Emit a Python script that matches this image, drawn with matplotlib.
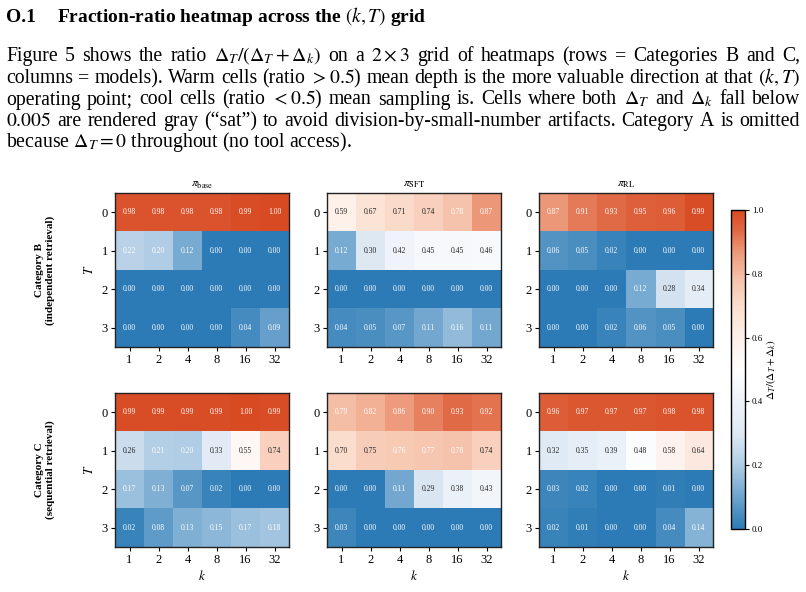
import matplotlib
matplotlib.use("Agg")
import matplotlib.pyplot as plt
import numpy as np
from matplotlib.colors import LinearSegmentedColormap

plt.rcParams['font.family'] = ['Liberation Serif', 'DejaVu Serif']
plt.rcParams['mathtext.fontset'] = 'stix'

k_vals = [1, 2, 4, 8, 16, 32]
T_vals = [0, 1, 2, 3]
models = [r"$\pi_{\mathrm{base}}$", r"$\pi_{\mathrm{SFT}}$", r"$\pi_{\mathrm{RL}}$"]
row_labels = ["Category B\n(independent retrieval)", "Category C\n(sequential retrieval)"]

# ratio Delta_T / (Delta_T + Delta_k), rows = T, cols = k
cat_b_base = [[0.98, 0.98, 0.98, 0.98, 0.99, 1.00],
              [0.22, 0.20, 0.12, 0.00, 0.00, 0.00],
              [0.00, 0.00, 0.00, 0.00, 0.00, 0.00],
              [0.00, 0.00, 0.00, 0.00, 0.04, 0.09]]
cat_b_sft = [[0.59, 0.67, 0.71, 0.74, 0.78, 0.87],
             [0.12, 0.30, 0.42, 0.45, 0.45, 0.46],
             [0.00, 0.00, 0.00, 0.00, 0.00, 0.00],
             [0.04, 0.05, 0.07, 0.11, 0.16, 0.11]]
cat_b_rl = [[0.87, 0.91, 0.93, 0.95, 0.96, 0.99],
            [0.06, 0.05, 0.02, 0.00, 0.00, 0.00],
            [0.00, 0.00, 0.00, 0.12, 0.28, 0.34],
            [0.00, 0.00, 0.02, 0.06, 0.05, 0.00]]
cat_c_base = [[0.99, 0.99, 0.99, 0.99, 1.00, 0.99],
              [0.26, 0.21, 0.20, 0.33, 0.55, 0.74],
              [0.17, 0.13, 0.07, 0.02, 0.00, 0.00],
              [0.02, 0.08, 0.13, 0.15, 0.17, 0.18]]
cat_c_sft = [[0.79, 0.82, 0.86, 0.90, 0.93, 0.92],
             [0.70, 0.75, 0.76, 0.77, 0.78, 0.74],
             [0.00, 0.00, 0.11, 0.29, 0.38, 0.43],
             [0.03, 0.00, 0.00, 0.00, 0.00, 0.00]]
cat_c_rl = [[0.96, 0.97, 0.97, 0.97, 0.98, 0.98],
            [0.32, 0.35, 0.39, 0.48, 0.58, 0.64],
            [0.03, 0.02, 0.00, 0.00, 0.01, 0.00],
            [0.02, 0.01, 0.00, 0.00, 0.04, 0.14]]
grids = [[cat_b_base, cat_b_sft, cat_b_rl],
         [cat_c_base, cat_c_sft, cat_c_rl]]

# diverging blue-white-red map
cmap = LinearSegmentedColormap.from_list("ratio", [
    (0.00, (44/255, 123/255, 182/255)),
    (0.12, (122/255, 172/255, 210/255)),
    (0.20, (176/255, 205/255, 229/255)),
    (0.30, (222/255, 233/255, 244/255)),
    (0.42, (241/255, 245/255, 251/255)),
    (0.50, (1.0, 1.0, 1.0)),
    (0.60, (253/255, 240/255, 233/255)),
    (0.70, (251/255, 222/255, 206/255)),
    (0.78, (246/255, 196/255, 173/255)),
    (0.87, (237/255, 152/255, 120/255)),
    (0.93, (226/255, 108/255, 72/255)),
    (1.00, (216/255, 74/255, 34/255)),
])

W, H = 806, 592
fig = plt.figure(figsize=(W / 100, H / 100), dpi=100)


def px_axes(x0, y0, x1, y1):
    return fig.add_axes([x0 / W, 1 - y1 / H, (x1 - x0) / W, (y1 - y0) / H])


# ---- page text ----
renderer = fig.canvas.get_renderer()
fig.text(6 / W, 1 - 22 / H, "O.1", fontsize=14, fontweight='bold', va='baseline')
fig.text(57 / W, 1 - 22 / H, r"Fraction-ratio heatmap across the $(k,T)$ grid",
         fontsize=14, fontweight='bold', va='baseline')

lines = [
    r"Figure 5 shows the ratio $\Delta_T/(\Delta_T+\Delta_k)$ on a $2\times3$ grid of heatmaps (rows = Categories B and C,",
    r"columns = models). Warm cells (ratio $>0.5$) mean depth is the more valuable direction at that $(k,T)$",
    r"operating point; cool cells (ratio $<0.5$) mean sampling is. Cells where both $\Delta_T$ and $\Delta_k$ fall below",
    r"$0.005$ are rendered gray (“sat”) to avoid division-by-small-number artifacts. Category A is omitted",
    r"because $\Delta_T=0$ throughout (no tool access).",
]
baselines = [61, 83, 104.5, 126, 147.5]
x_left, x_right = 6, 800

# pick a font size so the tightest justified line still has a normal word space
fs_par = 20.0
for line in lines[:-1]:
    words = line.split(" ")
    tmp = [fig.text(0, 0, w, fontsize=10) for w in words]
    s10 = sum(t.get_window_extent(renderer).width for t in tmp)
    for t in tmp:
        t.remove()
    fs_fit = (x_right - x_left) / (s10 / 10 + 0.25 * 100 / 72 * (len(words) - 1))
    fs_par = min(fs_par, fs_fit)

for i, (line, yb) in enumerate(zip(lines, baselines)):
    if i == len(lines) - 1:
        fig.text(x_left / W, 1 - yb / H, line, fontsize=fs_par, va='baseline')
        continue
    words = line.split(" ")
    texts = [fig.text(0, 1 - yb / H, w, fontsize=fs_par, va='baseline') for w in words]
    widths = [t.get_window_extent(renderer).width for t in texts]
    gap = (x_right - x_left - sum(widths)) / (len(words) - 1)
    x = x_left
    for t, w in zip(texts, widths):
        t.set_x(x / W)
        x += w + gap

# ---- heatmaps ----
lefts = [115, 327, 539]
tops = [193, 393]
pw, ph = 174, 154
for r in range(2):
    for c in range(3):
        ax = px_axes(lefts[c], tops[r], lefts[c] + pw, tops[r] + ph)
        data = np.array(grids[r][c])
        im = ax.imshow(data, cmap=cmap, vmin=0, vmax=1, aspect='auto')
        for i in range(len(T_vals)):
            for j in range(len(k_vals)):
                v = data[i, j]
                col = 'white' if abs(v - 0.5) > 0.25 else '#222222'
                ax.text(j, i, f"{v:.2f}", ha='center', va='center', fontsize=5.5, color=col)
        ax.set_xticks(range(len(k_vals)))
        ax.set_xticklabels([str(k) for k in k_vals])
        ax.set_yticks(range(len(T_vals)))
        ax.set_yticklabels([str(t) for t in T_vals])
        ax.tick_params(labelsize=9, length=3, width=0.8, pad=2)
        for s in ax.spines.values():
            s.set_linewidth(1.0)
            s.set_color('#222222')
        if r == 0:
            ax.set_title(models[c], fontsize=8.5, pad=5)
        if r == 1:
            ax.set_xlabel(r"$k$", fontsize=9.5, labelpad=2)
        if c == 0:
            ax.set_ylabel(r"$T$", fontsize=9.5, labelpad=4)
    fig.text(45 / W, 1 - (tops[r] + ph / 2) / H, row_labels[r], rotation=90,
             ha='center', va='center', fontsize=8, fontweight='bold', linespacing=1.1)

cax = px_axes(731, 210, 745, 529)
cb = fig.colorbar(im, cax=cax)
cb.set_ticks([0.0, 0.2, 0.4, 0.6, 0.8, 1.0])
cb.ax.tick_params(labelsize=6.5, length=3, width=0.8, pad=2)
cb.outline.set_linewidth(1.0)
cb.set_label(r"$\Delta_T/(\Delta_T+\Delta_k)$", fontsize=8, labelpad=1)

fig.savefig("out.png", dpi=100)
